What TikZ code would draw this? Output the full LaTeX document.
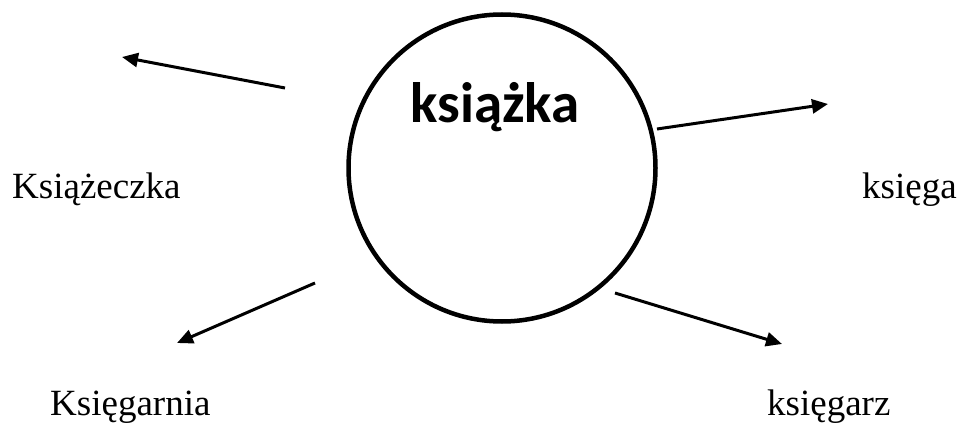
\documentclass[tikz,border=0pt]{standalone}
\usepackage{fontspec}
\setmainfont{Liberation Serif}
\newfontfamily\carlito{Carlito}
\usepackage{tikz}
\usetikzlibrary{arrows.meta}

\begin{document}
\begin{tikzpicture}[x=1pt, y=-1pt]
\tikzstyle{word}=[inner sep=0pt, anchor=base west, font=\fontsize{37}{44}\selectfont]
\tikzstyle{link}=[line width=3pt, -{Triangle[length=16pt, width=14pt]}]
\useasboundingbox (0,0) rectangle (962,436);

\node[circle, draw, line width=4.5pt, minimum size=307pt, inner sep=0pt] (book) at (502,168) {};
\node[inner sep=0pt, anchor=base, font=\carlito\bfseries\fontsize{57}{60}\selectfont] (title) at (495,122) {książka};

\node[word] (small) at (12,198) {Książeczka};
\node[word] (big) at (862,198) {księga};
\node[word] (shop) at (50,415) {Księgarnia};
\node[word] (seller) at (767,415) {księgarz};

\coordinate (s1) at (285,88);
\coordinate (t1) at (122,57);
\coordinate (s2) at (657,129);
\coordinate (t2) at (828,104);
\coordinate (s3) at (315,283);
\coordinate (t3) at (177,343);
\coordinate (s4) at (615,293);
\coordinate (t4) at (782,344);

\path 
(s1) edge[link] (t1)
(s2) edge[link] (t2)
(s3) edge[link] (t3)
(s4) edge[link] (t4);
\end{tikzpicture}
\end{document}
